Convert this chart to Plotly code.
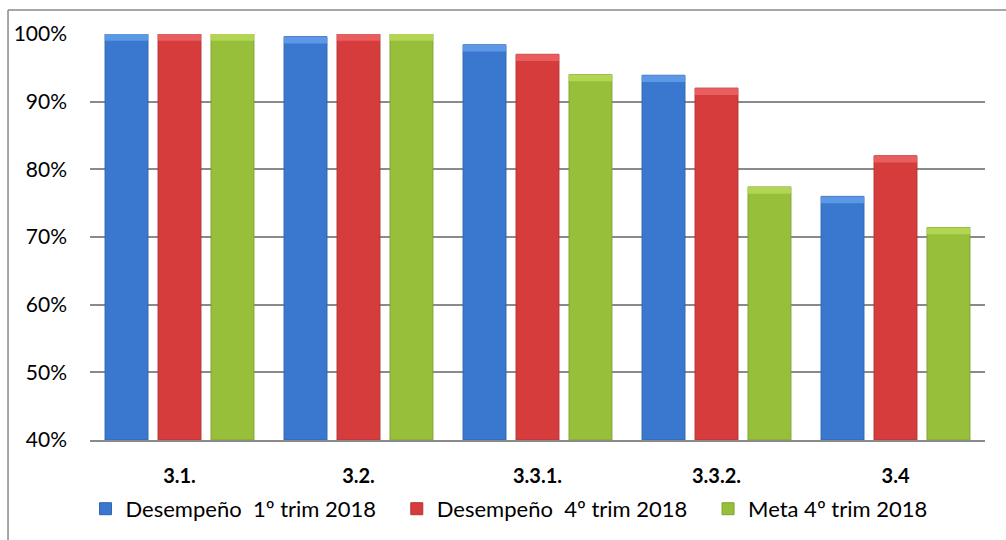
import plotly.graph_objects as go

categories = ["3.1.", "3.2.", "3.3.1.", "3.3.2.", "3.4"]
series_names = ["Desempeño  1º trim 2018", "Desempeño  4º trim 2018", "Meta 4º trim 2018"]
desemp_1t = [100, 99.6, 98.4, 93.9, 76.0]
desemp_4t = [100, 100, 97.0, 92.0, 82.0]
meta_4t = [100, 100, 94.0, 77.4, 71.4]
tick_values = [40, 50, 60, 70, 80, 90, 100]
tick_labels = ["40%", "50%", "60%", "70%", "80%", "90%", "100%"]

series_values = [desemp_1t, desemp_4t, meta_4t]
base_colors = ["#3a78cf", "#d63c3c", "#97bf3a"]
edge_colors = ["#2f64b0", "#b43434", "#7fa332"]
cap_colors = ["#5d98e6", "#e85e5e", "#b2d654"]
FONT = "Lato"

fig = go.Figure()
for i, (name, vals) in enumerate(zip(series_names, series_values)):
    fig.add_trace(go.Bar(
        x=categories, y=[v - 40 for v in vals], base=40, name=name,
        offsetgroup=str(i),
        marker=dict(color=base_colors[i], line=dict(color=edge_colors[i], width=1)),
        hovertemplate="%{x}: %{y:.1f}%<extra>" + name + "</extra>",
    ))
    # lighter cap on the top of each bar
    cap = 1.0
    fig.add_trace(go.Bar(
        x=categories, y=[cap] * len(vals), base=[v - cap for v in vals],
        offsetgroup=str(i), showlegend=False, hoverinfo="skip",
        marker=dict(color=cap_colors[i], line=dict(width=0)),
    ))

# outer frame (left and top edges)
fig.add_shape(type="line", xref="paper", yref="paper", x0=-0.0916, x1=-0.0916,
              y0=1.059, y1=-0.25, line=dict(color="#8a8a8a", width=1.5))
fig.add_shape(type="line", xref="paper", yref="paper", x0=-0.0916, x1=1.03,
              y0=1.059, y1=1.059, line=dict(color="#8a8a8a", width=1.5))

fig.update_layout(
    width=1006, height=540,
    margin=dict(l=90, r=21, t=34, b=100, autoexpand=False),
    paper_bgcolor="white", plot_bgcolor="white",
    barmode="group", bargap=0.112, bargroupgap=0.19,
    font=dict(family=FONT, color="#000000"),
    showlegend=True,
    legend=dict(orientation="h", x=-0.005, xanchor="left", y=-0.118, yanchor="top",
                font=dict(family=FONT, size=22, color="#000000"),
                traceorder="normal", itemwidth=30,
                entrywidth=0.316, entrywidthmode="fraction"),
    xaxis=dict(showgrid=False, showline=True, linecolor="#8a8a8a", linewidth=2,
               tickfont=dict(family=FONT, size=20, color="#000000", weight="bold"),
               ticks="", ticklabelstandoff=17),
    yaxis=dict(range=[40, 100], tickvals=tick_values, ticktext=tick_labels,
               showgrid=True, gridcolor="#8a8a8a", gridwidth=1.5,
               zeroline=False, showline=False,
               tickfont=dict(family=FONT, size=21, color="#000000"),
               ticklabelstandoff=22),
)

fig.write_html("out.html")
